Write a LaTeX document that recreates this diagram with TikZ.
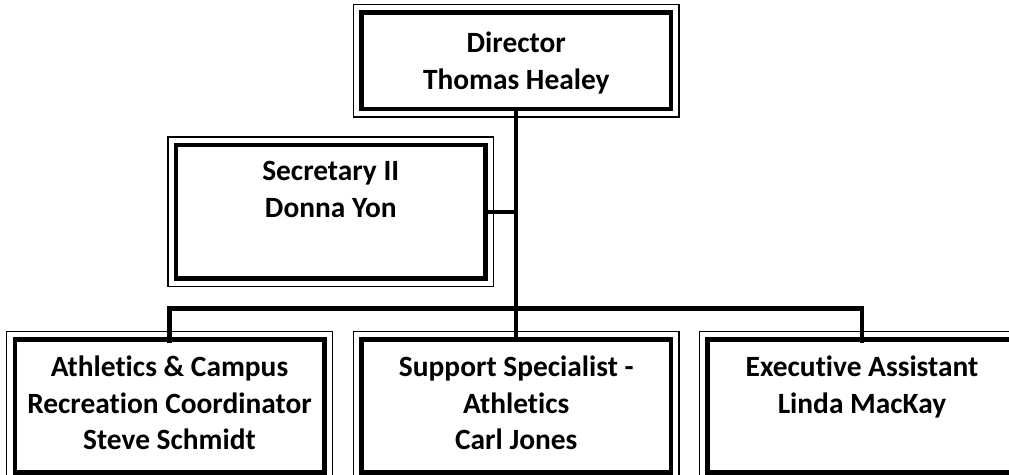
\documentclass[tikz,border=0pt]{standalone}
\usepackage{fontspec}
\setmainfont{Carlito}[RawFeature={-liga}]
\begin{document}
\begin{tikzpicture}[x=1pt,y=-1pt,
  inbox/.style={draw=black,line width=4.5pt,rectangle,inner sep=0pt,minimum width=309.5pt},
  outline/.style={draw=black,line width=1.3pt},
  conn/.style={draw=black,line width=4.2pt},
  txt/.style={inner sep=0pt,anchor=north,align=center,font=\fontsize{29.4}{36.8}\selectfont\bfseries}]
\useasboundingbox (0,0) rectangle (1009,474);
\clip (0,0) rectangle (1009,474);
\fill[white] (0,0) rectangle (1009,474);
% boxes
\node[inbox,minimum height=96.5pt] (dir) at (516.25,60.75) {};
\node[inbox,minimum height=133.3pt] (sec) at (330.75,211.6) {};
\node[inbox,minimum height=133pt] (ath) at (169.5,406) {};
\node[inbox,minimum height=133pt] (sup) at (516.25,406) {};
\node[inbox,minimum height=133pt] (exe) at (862,406) {};
\foreach \n in {dir,sec,ath,sup,exe}{
  \draw[outline] ([shift={(-5.8pt,5.8pt)}]\n.north west) rectangle ([shift={(5.8pt,-5.8pt)}]\n.south east);
}
% texts
\node[txt] (dirt) at (516.25,28) {\rule{0pt}{24pt}Director\\Thomas Healey};
\node[txt] (sect) at (330.75,156) {\rule{0pt}{24pt}Secretary II\\Donna Yon};
\node[txt] (atht) at (169.5,352) {\rule{0pt}{24pt}Athletics \& Campus\\Recreation Coordinator\\Steve Schmidt};
\node[txt] (supt) at (516.25,352) {\rule{0pt}{24pt}Support Specialist -\\Athletics\\Carl Jones};
\node[txt] (exet) at (862,352) {\rule{0pt}{24pt}Executive Assistant\\Linda MacKay};
% connectors
\coordinate (bus) at (516.25,308.5);
\draw[conn] (dir.south) -- (sup.north);
\draw[conn] (sec.east) -- (sec.east -| dir.south);
\draw[conn] ([yshift=-6pt]ath.north) |- (bus) -| ([yshift=-6pt]exe.north);
\end{tikzpicture}
\end{document}
